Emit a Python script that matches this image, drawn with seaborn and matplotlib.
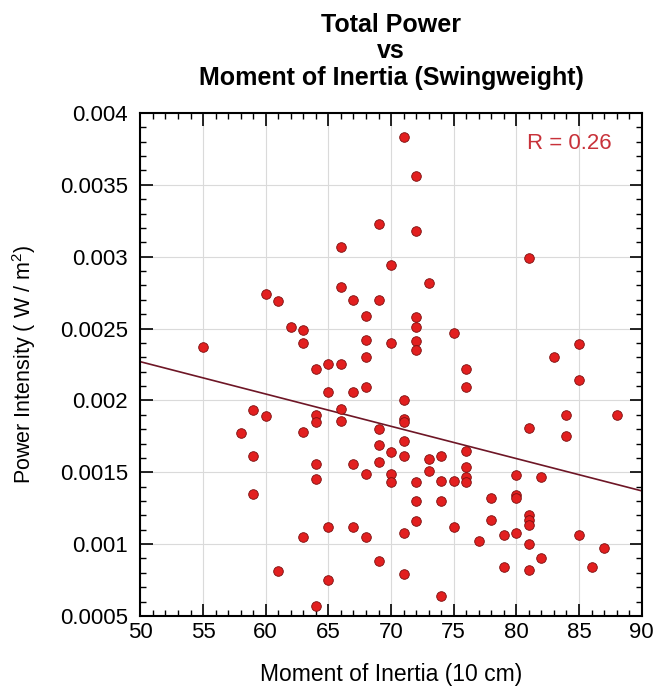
import numpy as np
import pandas as pd
import matplotlib
matplotlib.use("Agg")
import matplotlib.pyplot as plt
import seaborn as sns
from matplotlib.ticker import MultipleLocator, FixedLocator, FixedFormatter

# Swingweight (moment of inertia about a 10 cm axis)
moment_of_inertia = [
    69, 66, 70, 66, 60, 61, 67, 69, 68, 62, 63, 63, 68, 70, 55, 68,
    71, 72, 72, 73, 81, 72, 72, 75, 72, 72, 85, 83,
    64, 65, 66, 65, 67, 68, 59, 60, 64, 64, 66, 66, 58, 63, 69, 69, 59, 64,
    67, 69, 68, 64, 59, 65, 67, 63, 68, 69, 61, 65, 64,
    76, 76, 85, 71, 71, 71, 84, 88, 81, 84, 71, 70, 71, 73, 74, 73, 76, 76,
    76, 76, 70, 70, 72, 74, 75, 80, 82, 72, 74, 78, 80, 80, 72, 75, 78, 81,
    81, 81, 71, 77, 79, 80, 81, 82, 85, 87, 71, 79, 81, 86, 74,
]

# Total power intensity (W / m^2)
power_intensity = [
    0.00323, 0.00307, 0.00294, 0.00279, 0.00274, 0.00269, 0.00270, 0.00270,
    0.00259, 0.00251, 0.00249, 0.00240, 0.00242, 0.00240, 0.00237, 0.00230,
    0.00383, 0.00356, 0.00318, 0.00282, 0.00299, 0.00258, 0.00251, 0.00247,
    0.00241, 0.00235, 0.00239, 0.00230,
    0.00222, 0.00225, 0.00225, 0.00206, 0.00206, 0.00209, 0.00193, 0.00189,
    0.00190, 0.00185, 0.00194, 0.00186, 0.00177, 0.00178, 0.00180, 0.00169,
    0.00161, 0.00156, 0.00156, 0.00157, 0.00149, 0.00145, 0.00135, 0.00112,
    0.00112, 0.00105, 0.00105, 0.00088, 0.00081, 0.00075, 0.00057,
    0.00222, 0.00209, 0.00214, 0.00200, 0.00187, 0.00185, 0.00190, 0.00190,
    0.00181, 0.00175, 0.00172, 0.00164, 0.00161, 0.00159, 0.00161, 0.00151,
    0.00165, 0.00154, 0.00147, 0.00143, 0.00149, 0.00143, 0.00143, 0.00144,
    0.00144, 0.00148, 0.00147, 0.00130, 0.00130, 0.00132, 0.00134, 0.00132,
    0.00116, 0.00112, 0.00117, 0.00120, 0.00117, 0.00113, 0.00108, 0.00102,
    0.00106, 0.00108, 0.00100, 0.00090, 0.00106, 0.00097, 0.00079, 0.00084,
    0.00082, 0.00084, 0.00064,
]

x_ticks = [50, 55, 60, 65, 70, 75, 80, 85, 90]
y_ticks = [0.0005, 0.001, 0.0015, 0.002, 0.0025, 0.003, 0.0035, 0.004]
y_tick_labels = ["0.0005", "0.001", "0.0015", "0.002", "0.0025", "0.003", "0.0035", "0.004"]
r_label = "R = 0.26"

df = pd.DataFrame({"moi": moment_of_inertia, "power": power_intensity})

sns.set_style("white")
plt.rcParams["font.family"] = ["Liberation Sans", "DejaVu Sans"]
plt.rcParams["mathtext.fontset"] = "custom"
plt.rcParams["mathtext.rm"] = "Liberation Sans"
for key in ("text.color", "axes.labelcolor", "xtick.color", "ytick.color"):
    plt.rcParams[key] = "black"

fig = plt.figure(figsize=(6.55, 6.89), dpi=100)
ax = fig.add_axes([0.2144, 0.106, 0.7652, 0.730])

# set the range first so the fitted line spans the full width
ax.set_xlim(50, 90)
ax.set_ylim(0.0005, 0.004)

ax.grid(True, which="major", color="#dadada", linewidth=0.8, zorder=0)
ax.set_axisbelow(True)

sns.regplot(data=df, x="moi", y="power", scatter=False, ci=None, ax=ax,
            truncate=False,
            line_kws=dict(color="#6e1626", linewidth=1.2, zorder=2))
sns.scatterplot(data=df, x="moi", y="power", ax=ax, s=48, color="#e21f1f",
                edgecolor="#7a0f0f", linewidth=0.6, zorder=3)

ax.set_xlim(50, 90)
ax.set_ylim(0.0005, 0.004)
ax.xaxis.set_major_locator(FixedLocator(x_ticks))
ax.xaxis.set_minor_locator(MultipleLocator(1))
ax.yaxis.set_major_locator(FixedLocator(y_ticks))
ax.yaxis.set_major_formatter(FixedFormatter(y_tick_labels))
ax.yaxis.set_minor_locator(MultipleLocator(0.0001))

ax.tick_params(which="both", direction="in", top=True, right=True,
               bottom=True, left=True, color="black", labelcolor="black")
ax.tick_params(which="major", length=9, width=1.2, labelsize=16)
ax.tick_params(which="minor", length=4.5, width=1.0)
ax.tick_params(axis="x", which="major", pad=4)
ax.tick_params(axis="y", which="major", pad=9)
for s in ax.spines.values():
    s.set_visible(True)
    s.set_color("black")
    s.set_linewidth(1.5)

ax.set_xlabel("Moment of Inertia (10 cm)", fontsize=16.5, labelpad=15,
              color="black")
ax.set_ylabel("Power Intensity ( W / m$^2$)", fontsize=15.5, labelpad=16,
              color="black")
ax.set_title("Total Power\nvs\nMoment of Inertia (Swingweight)",
             fontsize=18, fontweight="bold", linespacing=1.15, pad=20,
             color="black")

ax.text(0.941, 0.940, r_label, transform=ax.transAxes, ha="right", va="center",
        color="#c8323a", fontsize=16)

fig.savefig("out.png", dpi=100)
